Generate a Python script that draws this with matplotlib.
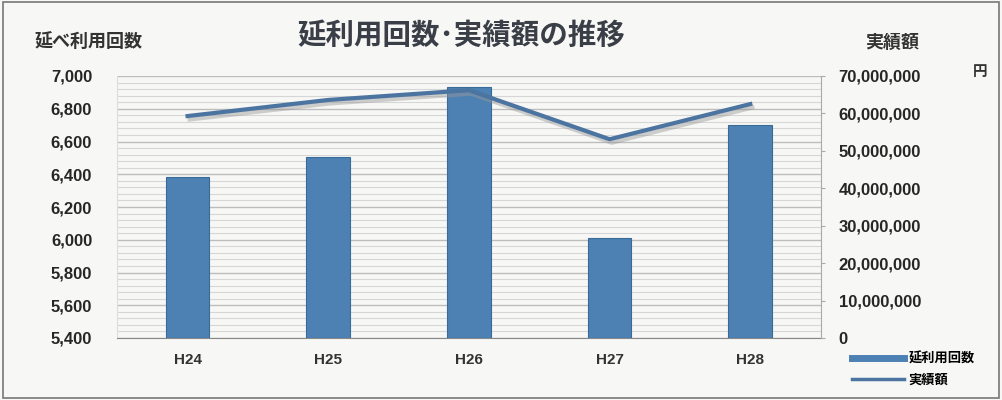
import numpy as np
import matplotlib
matplotlib.use("Agg")
import matplotlib.pyplot as plt
import matplotlib.patheffects as pe
from matplotlib.ticker import FuncFormatter, MultipleLocator
from matplotlib.lines import Line2D
from matplotlib.patches import Rectangle

plt.rcParams['font.family'] = ['Noto Sans CJK JP', 'DejaVu Sans']
num_font = ['Liberation Sans', 'Noto Sans CJK JP']

years = ['H24', 'H25', 'H26', 'H27', 'H28']
riyou = [6385, 6503, 6935, 6008, 6700]                      # 延利用回数
jisseki = [59300000, 63600000, 66200000, 53100000, 62500000]  # 実績額 (円)

bar_col = '#4d81b3'
line_col = '#4b74a0'

fig = plt.figure(figsize=(10.02, 4.0), dpi=100)
fig.patch.set_facecolor('#f7f7f5')
ax = fig.add_axes([0.117, 0.155, 0.702, 0.655])
ax.set_facecolor('#f7f7f5')

x = np.arange(len(years))
ax.bar(x, [v - 5400 for v in riyou], bottom=5400, width=0.31, color=bar_col,
       edgecolor='#3a6a98', linewidth=0.8, zorder=3)
ax.set_ylim(5400, 7000)
ax.set_xlim(-0.5, 4.5)
ax.yaxis.set_major_locator(MultipleLocator(200))
ax.yaxis.set_minor_locator(MultipleLocator(40))
ax.yaxis.set_major_formatter(FuncFormatter(lambda v, p: '{:,.0f}'.format(v)))
ax.grid(axis='y', which='major', color='#bdbdbd', linewidth=1.0, zorder=0)
ax.grid(axis='y', which='minor', color='#d6d6d6', linewidth=0.8, zorder=0)
ax.set_xticks(x)
ax.set_xticklabels(years, fontsize=11, fontweight='bold', color='#333333',
                   family=num_font)
ax.tick_params(axis='x', length=0, pad=11)
ax.tick_params(axis='y', which='both', length=0, pad=18)
for lab in ax.get_yticklabels():
    lab.set_family(num_font)
    lab.set_fontsize(12)
    lab.set_fontweight('bold')
    lab.set_color('#262626')
for s in ['top', 'right', 'left']:
    ax.spines[s].set_visible(False)
ax.spines['left'].set_visible(True)
ax.spines['left'].set_color('#dddddd')
ax.spines['bottom'].set_color('#888888')

ax2 = ax.twinx()
ax2.plot(x, jisseki, color=line_col, linewidth=3, zorder=4,
         path_effects=[pe.SimpleLineShadow(offset=(1.5, -2.5), shadow_color='#999999', alpha=0.45),
                       pe.Normal()])
ax2.set_ylim(0, 70000000)
ax2.yaxis.set_major_locator(MultipleLocator(10000000))
ax2.yaxis.set_major_formatter(FuncFormatter(lambda v, p: '{:,.0f}'.format(v)))
ax2.tick_params(axis='y', length=3, color='#aaaaaa', pad=10)
for lab in ax2.get_yticklabels():
    lab.set_family(num_font)
    lab.set_fontsize(12)
    lab.set_fontweight('bold')
    lab.set_color('#262626')
for s in ['top', 'left', 'bottom']:
    ax2.spines[s].set_visible(False)
ax2.spines['right'].set_color('#aaaaaa')

fig.text(0.46, 0.91, '延利用回数･実績額の推移', ha='center', va='center',
         fontsize=20.5, fontweight='bold', color='#3a3f47')
fig.text(0.035, 0.895, '延べ利用回数', ha='left', va='center', fontsize=13,
         fontweight='bold', color='#333333')
fig.text(0.89, 0.895, '実績額', ha='center', va='center', fontsize=13,
         fontweight='bold', color='#333333')
fig.text(0.978, 0.822, '円', ha='center', va='center', fontsize=10.5,
         fontweight='bold', color='#333333')

handles = [Line2D([0], [0], color=bar_col, linewidth=5),
           Line2D([0], [0], color=line_col, linewidth=2.5)]
fig.legend(handles, ['延利用回数', '実績額'], loc='center left',
           bbox_to_anchor=(0.838, 0.078), frameon=False,
           handlelength=4.0, handletextpad=0.3, labelspacing=0.55,
           prop={'weight': 'bold', 'size': 9.5})

fig.patches.append(Rectangle((0.003, 0.005), 0.994, 0.99, transform=fig.transFigure,
                             fill=False, edgecolor='#777777', linewidth=1.2))

fig.savefig('out.png', dpi=100, facecolor=fig.get_facecolor())
